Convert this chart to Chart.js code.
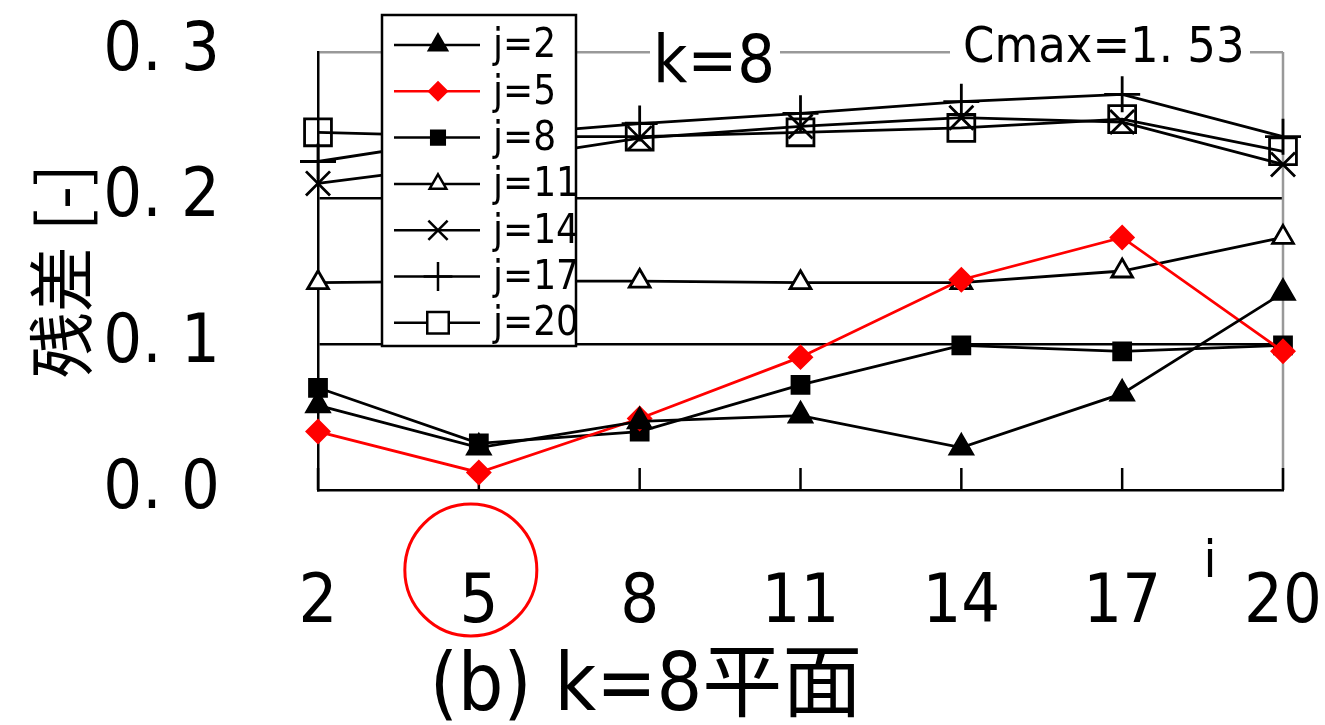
<!DOCTYPE html>
<html>
<head>
<meta charset="utf-8">
<script src="https://cdn.jsdelivr.net/npm/chart.js@4.4.1/dist/chart.umd.min.js"></script>
<style>
  html, body { margin: 0; padding: 0; background: #fff; }
  canvas { display: block; }
</style>
</head>
<body>
<canvas id="chart" width="1325" height="725"></canvas>
<script>
// i positions along the k=8 plane
const iLabels = ['2', '5', '8', '11', '14', '17', '20'];

// residual per j line
const resJ2  = [0.058, 0.029, 0.047, 0.051, 0.029, 0.066, 0.135];
const resJ5  = [0.040, 0.012, 0.049, 0.091, 0.144, 0.173, 0.095];
const resJ8  = [0.070, 0.032, 0.040, 0.072, 0.099, 0.095, 0.099];
const resJ11 = [0.142, 0.143, 0.143, 0.142, 0.142, 0.150, 0.173];
const resJ14 = [0.210, 0.224, 0.241, 0.249, 0.255, 0.252, 0.223];
const resJ17 = [0.225, 0.242, 0.251, 0.258, 0.266, 0.271, 0.242];
const resJ20 = [0.245, 0.242, 0.242, 0.245, 0.248, 0.254, 0.232];

const seriesNames = ['j=2', 'j=5', 'j=8', 'j=11', 'j=14', 'j=17', 'j=20'];
const yMin = 0, yMax = 0.3, yStep = 0.1;

const FONT = "'Liberation Sans Narrow', 'DejaVu Sans Condensed', 'Noto Sans CJK JP', sans-serif";
const JP_FONT = "'Noto Sans CJK JP', 'DejaVu Sans Condensed', sans-serif";

function line(label, data, color, style, radius, fill) {
  return {
    label, data,
    borderColor: color,
    backgroundColor: fill,
    borderWidth: 2.8,
    pointStyle: style,
    pointRadius: radius,
    pointBorderColor: color,
    pointBackgroundColor: fill,
    pointBorderWidth: 2.8,
    tension: 0
  };
}

const datasets = [
  line(seriesNames[0], resJ2,  '#000', 'triangle',  13, '#000'),
  line(seriesNames[1], resJ5,  '#f00', 'rectRot',   11, '#f00'),
  line(seriesNames[2], resJ8,  '#000', 'rect',      12, '#000'),
  line(seriesNames[3], resJ11, '#000', 'triangle',  12, '#fff'),
  line(seriesNames[4], resJ14, '#000', 'crossRot',  17, '#fff'),
  line(seriesNames[5], resJ17, '#000', 'cross',     18, '#fff'),
  line(seriesNames[6], resJ20, '#000', 'rect',      19, 'rgba(0,0,0,0)')
];

// frame pieces, inward ticks, annotations and the boxed legend
const decor = {
  id: 'decor',
  beforeDatasetsDraw(chart) {
    const { ctx, chartArea: a } = chart;
    ctx.save();
    ctx.strokeStyle = '#999';
    ctx.lineWidth = 2.5;
    ctx.beginPath();
    ctx.moveTo(a.right, a.top);
    ctx.lineTo(a.right, a.bottom);
    ctx.stroke();
    ctx.strokeStyle = '#000';
    chart.scales.x.ticks.forEach((t, idx) => {
      const px = chart.scales.x.getPixelForTick(idx);
      ctx.beginPath();
      ctx.moveTo(px, a.bottom);
      ctx.lineTo(px, a.bottom - 22);
      ctx.stroke();
    });
    ctx.restore();
  },
  afterDraw(chart) {
    const { ctx } = chart;
    ctx.save();

    // labels sitting on the top frame line
    ctx.fillStyle = '#fff';
    ctx.fillRect(650, 40, 130, 25);
    ctx.fillRect(950, 40, 300, 25);
    ctx.fillStyle = '#000';
    ctx.textBaseline = 'alphabetic';
    ctx.textAlign = 'center';
    ctx.font = '66px ' + FONT;
    ctx.fillText('k=8', 714, 82);
    ctx.textAlign = 'left';
    ctx.font = '50px ' + FONT;
    ctx.fillText('Cmax=1. 53', 963, 62);

    // axis letter
    ctx.font = '52px ' + FONT;
    ctx.textAlign = 'center';
    ctx.fillText('i', 1210, 577);

    // red ring around i=5
    const cx = chart.scales.x.getPixelForValue(1);
    ctx.strokeStyle = '#f00';
    ctx.lineWidth = 3;
    ctx.beginPath();
    ctx.arc(cx - 8, 570, 66, 0, Math.PI * 2);
    ctx.stroke();

    // panel caption
    ctx.fillStyle = '#000';
    ctx.font = '80px ' + FONT;
    ctx.textAlign = 'center';
    ctx.fillText('(b) k=8平面', 646, 710);

    // legend box
    const bx = 382, by = 15, bw = 194, bh = 331;
    ctx.fillStyle = '#fff';
    ctx.fillRect(bx, by, bw, bh);
    ctx.strokeStyle = '#000';
    ctx.lineWidth = 2.5;
    ctx.strokeRect(bx, by, bw, bh);
    ctx.font = '40px ' + FONT;
    ctx.textAlign = 'left';
    ctx.textBaseline = 'middle';
    chart.data.datasets.forEach((ds, n) => {
      const ry = 45 + n * 46.3;
      ctx.strokeStyle = ds.borderColor;
      ctx.lineWidth = 2.5;
      ctx.beginPath();
      ctx.moveTo(394, ry);
      ctx.lineTo(480, ry);
      ctx.stroke();
      ctx.fillStyle = ds.pointBackgroundColor === 'rgba(0,0,0,0)' ? '#fff' : ds.pointBackgroundColor;
      ctx.strokeStyle = ds.pointBorderColor;
      ctx.lineWidth = 2.5;
      Chart.helpers.drawPoint(ctx, { pointStyle: ds.pointStyle, radius: ds.pointRadius * 0.8, borderWidth: 2.5 }, 438, ry);
      ctx.fillStyle = '#000';
      ctx.fillText(ds.label, 493, ry + 2);
    });
    ctx.restore();
  }
};

new Chart(document.getElementById('chart'), {
  type: 'line',
  data: { labels: iLabels, datasets },
  options: {
    responsive: false,
    animation: false,
    devicePixelRatio: 1,
    layout: { padding: { top: 52, right: 42, left: 0, bottom: 0 } },
    plugins: { legend: { display: false }, tooltip: { enabled: false } },
    scales: {
      x: {
        type: 'category',
        offset: false,
        afterFit: s => { s.height = 235; s.paddingLeft = 0; s.paddingRight = 0; },
        grid: { display: false, drawTicks: false },
        border: { color: '#000', width: 2.5 },
        ticks: { color: '#000', padding: 74, maxRotation: 0, font: { family: FONT, size: 68 } }
      },
      y: {
        min: yMin, max: yMax,
        afterFit: s => { s.width = 318; s.paddingTop = 0; s.paddingBottom = 0; },
        grid: {
          drawTicks: false,
          lineWidth: 2.5,
          color: c => Math.abs(c.tick.value - yMax) < 1e-9 ? '#999'
            : (Math.abs(c.tick.value) < 1e-9 ? 'rgba(0,0,0,0)' : '#000')
        },
        border: { color: '#000', width: 2.5 },
        ticks: {
          stepSize: yStep,
          color: '#000',
          padding: 98,
          font: { family: FONT, size: 68 },
          callback: v => v.toFixed(1).replace('.', '. ')
        },
        title: {
          display: true,
          text: '残差 [-]',
          color: '#000',
          font: { family: JP_FONT, size: 66 },
          padding: { top: 21, bottom: 0 }
        }
      }
    }
  },
  plugins: [decor]
});
</script>
</body>
</html>
